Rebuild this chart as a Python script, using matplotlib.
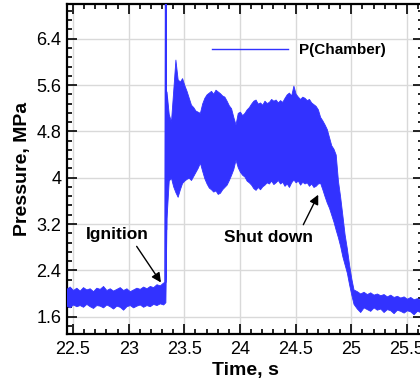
import numpy as np
import matplotlib
matplotlib.use("Agg")
import matplotlib.pyplot as plt
from matplotlib.lines import Line2D

plt.rcParams['font.family'] = ['Liberation Sans', 'DejaVu Sans']

# chamber pressure, MPa: upper / lower envelope of the noisy signal
# before ignition
t_pre = [22.44, 22.47, 22.50, 22.53, 22.56, 22.59, 22.62, 22.65, 22.68, 22.71,
         22.74, 22.77, 22.80, 22.83, 22.86, 22.89, 22.92, 22.95, 22.98, 23.01,
         23.04, 23.07, 23.10, 23.13, 23.16, 23.19, 23.22, 23.25, 23.28, 23.31, 23.33]
up_pre = [2.08, 2.12, 2.06, 2.10, 2.05, 2.11, 2.07, 2.09, 2.04, 2.10,
          2.08, 2.13, 2.06, 2.09, 2.05, 2.08, 2.11, 2.06, 2.09, 2.04,
          2.07, 2.10, 2.08, 2.12, 2.09, 2.13, 2.11, 2.16, 2.14, 2.19, 2.20]
lo_pre = [1.79, 1.76, 1.81, 1.78, 1.80, 1.77, 1.82, 1.78, 1.75, 1.80,
          1.79, 1.76, 1.81, 1.78, 1.74, 1.79, 1.77, 1.72, 1.78, 1.80,
          1.76, 1.79, 1.81, 1.77, 1.80, 1.78, 1.82, 1.80, 1.83, 1.81, 1.85]

# combustion
t_run = [23.34, 23.36, 23.38, 23.40, 23.42, 23.44, 23.46, 23.48, 23.50, 23.52,
         23.54, 23.56, 23.58, 23.60, 23.62, 23.64, 23.66, 23.68, 23.70, 23.72,
         23.74, 23.76, 23.78, 23.80, 23.82, 23.84, 23.86, 23.88, 23.90, 23.92,
         23.94, 23.96, 23.98, 24.00, 24.02, 24.04, 24.06, 24.08, 24.10, 24.12,
         24.14, 24.16, 24.18, 24.20, 24.22, 24.24, 24.26, 24.28, 24.30, 24.32,
         24.34, 24.36, 24.38, 24.40, 24.42, 24.44, 24.46, 24.48, 24.50, 24.52,
         24.54, 24.56, 24.58, 24.60, 24.62, 24.64, 24.66, 24.68, 24.70, 24.72,
         24.74, 24.76, 24.78, 24.80, 24.82, 24.84]
up_run = [5.49, 5.10, 4.97, 5.50, 6.04, 5.70, 5.66, 5.72, 5.60, 5.50,
          5.38, 5.26, 5.22, 5.16, 5.14, 5.12, 5.28, 5.38, 5.44, 5.47,
          5.50, 5.45, 5.52, 5.49, 5.46, 5.42, 5.40, 5.33, 5.25, 5.20,
          5.05, 4.92, 5.12, 5.14, 5.08, 5.12, 5.18, 5.22, 5.28, 5.33,
          5.35, 5.28, 5.30, 5.26, 5.33, 5.29, 5.31, 5.36, 5.33, 5.35,
          5.30, 5.34, 5.31, 5.38, 5.44, 5.47, 5.42, 5.59, 5.45, 5.40,
          5.36, 5.40, 5.38, 5.34, 5.36, 5.30, 5.27, 5.24, 5.18, 5.05,
          4.99, 4.92, 4.84, 4.70, 4.56, 4.50]
lo_run = [3.30, 3.95, 4.00, 3.85, 3.75, 3.67, 3.80, 3.91, 3.95, 3.98,
          4.00, 3.96, 4.03, 4.10, 4.17, 4.26, 4.12, 3.99, 3.90, 3.83,
          3.80, 3.76, 3.78, 3.72, 3.74, 3.80, 3.84, 3.88, 3.96, 4.05,
          4.15, 4.31, 4.18, 4.10, 4.05, 4.02, 3.95, 3.92, 3.88, 3.82,
          3.79, 3.84, 3.80, 3.85, 3.88, 3.92, 3.90, 3.95, 3.89, 3.92,
          3.96, 3.90, 3.93, 3.86, 3.90, 3.84, 3.92, 3.97, 3.92, 3.95,
          3.88, 3.93, 3.90, 3.92, 3.86, 3.90, 3.84, 3.86, 3.90, 3.91,
          3.80, 3.68, 3.57, 3.48, 3.36, 3.24]

# shut down + tail
t_end = [24.86, 24.88, 24.90, 24.92, 24.94, 24.96, 24.98, 25.00, 25.02,
         25.05, 25.08, 25.11, 25.14, 25.17, 25.20, 25.23, 25.26, 25.29, 25.32,
         25.35, 25.38, 25.41, 25.44, 25.47, 25.50, 25.53, 25.56, 25.59, 25.62, 25.65]
up_end = [4.40, 3.95, 3.67, 3.35, 3.02, 2.78, 2.50, 2.26, 2.07,
          2.04, 2.00, 2.03, 1.99, 2.02, 1.98, 2.00, 1.97, 1.99, 1.95,
          1.98, 1.94, 1.96, 1.93, 1.95, 1.91, 1.94, 1.90, 1.92, 1.89, 1.91]
lo_end = [3.10, 2.97, 2.82, 2.64, 2.50, 2.36, 2.16, 1.98, 1.82,
          1.74, 1.68, 1.76, 1.73, 1.70, 1.76, 1.72, 1.74, 1.68, 1.73,
          1.71, 1.66, 1.72, 1.70, 1.67, 1.71, 1.69, 1.64, 1.70, 1.68, 1.69]

# ignition spike
t_spike = [23.327, 23.333, 23.338, 23.342]
p_spike = [2.15, 7.6, 3.10, 4.60]

t_all = np.array(t_pre + t_run + t_end)
up_all = np.array(up_pre + up_run + up_end)
lo_all = np.array(lo_pre + lo_run + lo_end)

blue = '#3232ff'

fig = plt.figure(figsize=(4.2, 3.79), dpi=100)
ax = fig.add_axes([0.1595, 0.1187, 0.8476, 0.8707])

ax.fill_between(t_all, lo_all, up_all, color=blue, lw=0.6, edgecolor=blue, zorder=3)
ax.plot(t_spike, p_spike, color=blue, lw=1.2, zorder=3)

ax.set_xlim(22.446, 25.644)
ax.set_ylim(1.3, 7.0)
ax.set_xticks([22.5, 23, 23.5, 24, 24.5, 25, 25.5])
ax.set_xticklabels(['22.5', '23', '23.5', '24', '24.5', '25', '25.5'])
ax.set_yticks([1.6, 2.4, 3.2, 4.0, 4.8, 5.6, 6.4])
ax.set_yticklabels(['1.6', '2.4', '3.2', '4', '4.8', '5.6', '6.4'])
ax.xaxis.set_minor_locator(matplotlib.ticker.MultipleLocator(0.1))
ax.yaxis.set_minor_locator(matplotlib.ticker.MultipleLocator(0.16))
ax.tick_params(which='both', direction='in', top=True, right=True, width=1.2)
ax.tick_params(which='major', length=7, labelsize=13, pad=4)
ax.tick_params(which='minor', length=3.5)
ax.tick_params(axis='x', which='major', pad=5)
for s in ax.spines.values():
    s.set_linewidth(1.6)
ax.grid(True, which='major', color='#d9d9d9', lw=1, zorder=0)
ax.set_axisbelow(True)

ax.set_xlabel('Time, s', fontsize=14, fontweight='bold', labelpad=3)
ax.set_ylabel('Pressure, MPa', fontsize=14, fontweight='bold', labelpad=4)

leg_line = Line2D([], [], color=blue, lw=1)
ax.legend(handles=[leg_line], labels=['P(Chamber)'], loc='center left',
          bbox_to_anchor=(0.407, 0.861), frameon=False, borderpad=0, borderaxespad=0,
          handlelength=5.0, handletextpad=0.7, prop={'weight': 'bold', 'size': 11})

# annotations
ax.text(22.895, 3.016, 'Ignition', fontsize=12.5, fontweight='bold', ha='center', va='center')
ax.annotate('', xy=(23.29, 2.19), xytext=(23.072, 2.814),
            arrowprops=dict(arrowstyle='-|>', color='black', lw=1, mutation_scale=14,
                            shrinkA=0, shrinkB=0))
ax.text(24.252, 2.964, 'Shut down', fontsize=12.5, fontweight='bold', ha='center', va='center')
ax.annotate('', xy=(24.703, 3.706), xytext=(24.569, 3.188),
            arrowprops=dict(arrowstyle='-|>', color='black', lw=1, mutation_scale=14,
                            shrinkA=0, shrinkB=0))

fig.savefig('out.png', dpi=100)
